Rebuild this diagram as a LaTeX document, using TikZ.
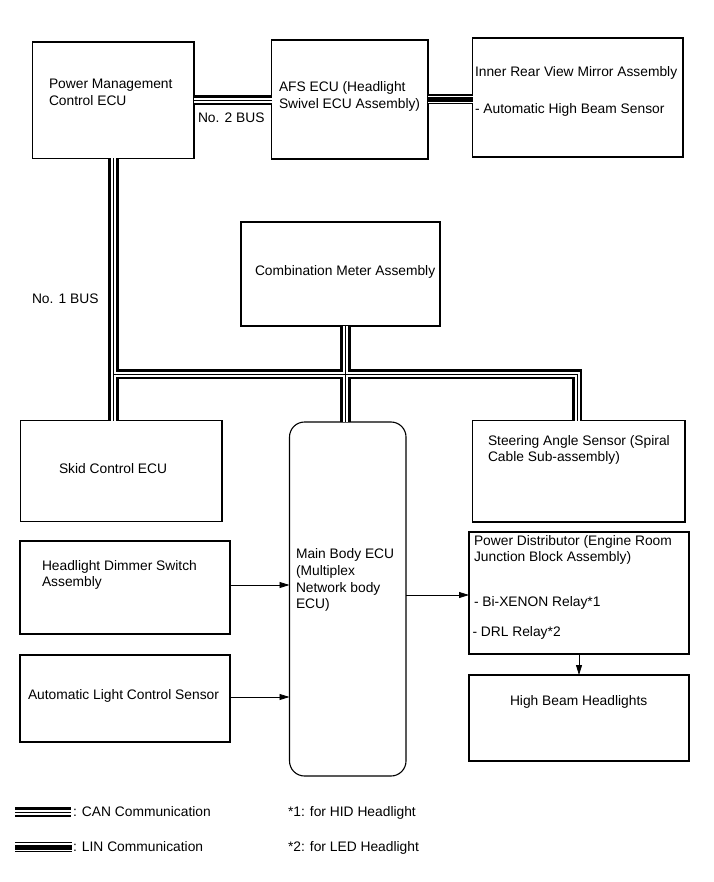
\documentclass[tikz,border=0pt]{standalone}
\usepackage{fontspec}
\setmainfont{Liberation Sans}
\usetikzlibrary{arrows.meta}
\newcommand\mkbox[6][]{\node[box,#1,minimum width={(#4-#2)*1pt},minimum height={(#5-#3)*1pt}] (#6) at ({(#2+#4)/2},{(#3+#5)/2}) {};}
\begin{document}
\begin{tikzpicture}[x=1pt,y=-1pt,
  box/.style={draw, line width=1.1pt, inner sep=0pt, outer sep=0pt},
  txt/.style={inner sep=0pt, outer sep=0pt, anchor=base west, font=\fontsize{13.8}{16.5}\selectfont},
  canA/.style={line width=10.5pt, black},
  canB/.style={line width=5pt, white},
  canC/.style={line width=1pt, black},
  linA/.style={line width=10pt, black},
  linB/.style={line width=7.5pt, white},
  linC/.style={line width=5pt, black},
  arr/.style={line width=0.8pt, -{Triangle[length=10pt,width=6pt]}}]
\useasboundingbox (0,0) rectangle (713,882);
% boxes
\mkbox{32.5}{42}{194}{158.5}{pmc}
\mkbox{271.5}{40}{428}{159}{afs}
\mkbox{472.5}{38}{683}{157}{mirror}
\mkbox{241}{222}{440}{326}{comb}
\mkbox{20.5}{420.5}{222}{521.5}{skid}
\mkbox[rounded corners=15pt]{289.5}{422}{406}{776}{main}
\mkbox{472.5}{420.5}{685}{522}{steer}
\mkbox{20}{541}{230}{634}{dimmer}
\mkbox{20}{655}{230}{742}{auto}
\mkbox{469}{532}{689}{654}{pd}
\mkbox{469}{675}{689}{761}{hb}
% coordinates
\coordinate (busL) at (pmc.south |- 0,374);
\coordinate (busR) at (577,374);
\coordinate (cross) at (345.5,374);
\coordinate (canL1) at (15,812);
\coordinate (canL2) at (71,812);
\coordinate (linL1) at (15,847);
\coordinate (linL2) at (72,847);
\coordinate (rowA) at (0,585);
\coordinate (rowB) at (0,697);
\coordinate (rowC) at (0,595);
% CAN buses
\foreach \s in {canA,canB,canC}{
  \draw[\s] (pmc.east) -- (pmc.east -| afs.west);
  \draw[\s] (pmc.south) -- (pmc.south |- skid.north);
  \draw[\s] (busL) -- (busR) -- (busR |- steer.north);
  \draw[\s] (cross |- comb.south) -- (cross |- main.north);
  \draw[\s] (canL1) -- (canL2);
}
% LIN
\foreach \s in {linA,linB,linC}{
  \draw[\s] (afs.east) -- (afs.east -| mirror.west);
  \draw[\s] (linL1) -- (linL2);
}
% arrows
\draw[arr] (dimmer.east |- rowA) -- (main.west |- rowA);
\draw[arr] (auto.east |- rowB) -- (main.west |- rowB);
\draw[arr] (main.east |- rowC) -- (pd.west |- rowC);
\draw[arr] (pd.south) -- (hb.north);
% texts
\node[txt] (t1) at (49,88.5) {Power Management};
\node[txt] (t2) at (49,105.5) {Control ECU};
\node[txt] (t3) at (198,123) {No. 2 BUS};
\node[txt] (t4) at (279,92) {AFS ECU (Headlight};
\node[txt] (t5) at (279,108.5) {Swivel ECU Assembly)};
\node[txt] (t6) at (475,77) {Inner Rear View Mirror Assembly};
\node[txt] (t7) at (475,114) {- Automatic High Beam Sensor};
\node[txt] (t8) at (255,276) {Combination Meter Assembly};
\node[txt] (t9) at (32,303) {No. 1 BUS};
\node[txt] (t10) at (59,473) {Skid Control ECU};
\node[txt] (t11) at (488,445) {Steering Angle Sensor (Spiral};
\node[txt] (t12) at (488,461.5) {Cable Sub-assembly)};
\node[txt] (t13) at (296,558.5) {Main Body ECU};
\node[txt] (t14) at (296,575) {(Multiplex};
\node[txt] (t15) at (296,592) {Network body};
\node[txt] (t16) at (296,608) {ECU)};
\node[txt] (t17) at (42,570) {Headlight Dimmer Switch};
\node[txt] (t18) at (42,586.5) {Assembly};
\node[txt] (t19) at (28,699) {Automatic Light Control Sensor};
\node[txt] (t20) at (474,545) {Power Distributor (Engine Room};
\node[txt] (t21) at (474,561.5) {Junction Block Assembly)};
\node[txt] (t22) at (474,606.5) {- Bi-XENON Relay*1};
\node[txt] (t23) at (472.5,636) {- DRL Relay*2};
\node[txt] (t24) at (510,705) {High Beam Headlights};
\node[txt] (t25) at (73,816) {: CAN Communication};
\node[txt] (t26) at (73,851) {: LIN Communication};
\node[txt] (t27) at (288,816) {*1: for HID Headlight};
\node[txt] (t28) at (288,851) {*2: for LED Headlight};
\end{tikzpicture}
\end{document}
